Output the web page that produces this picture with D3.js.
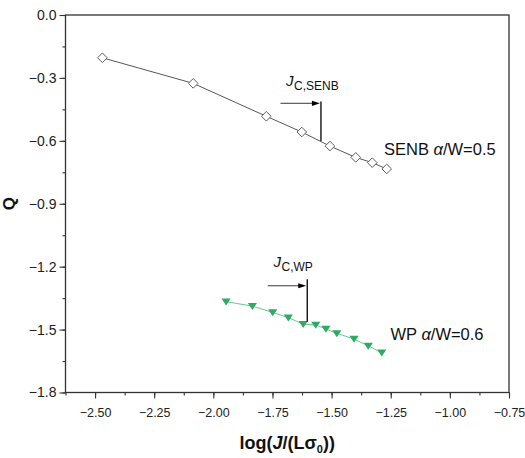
<!DOCTYPE html>
<html><head><meta charset="utf-8">
<script src="https://cdn.jsdelivr.net/npm/d3@7/dist/d3.min.js"></script>
<style>body{margin:0;background:#fff}svg{display:block}text{font-family:"Liberation Sans",Arial,sans-serif}</style>
</head><body><svg id="c" width="525" height="458"></svg>
<script>
// SENB a/W=0.5 series
const senbX = [-2.469, -2.085, -1.776, -1.626, -1.507, -1.398, -1.328, -1.267];
const senbQ = [-0.204, -0.326, -0.483, -0.558, -0.625, -0.679, -0.704, -0.734];
// WP a/W=0.6 series
const wpX = [-1.946, -1.835, -1.749, -1.683, -1.620, -1.567, -1.524, -1.478, -1.405, -1.345, -1.288];
const wpQ = [-1.367, -1.388, -1.418, -1.443, -1.474, -1.478, -1.497, -1.518, -1.545, -1.578, -1.610];
// Jc markers: [x, yTop, yBottom, arrowStartX, arrowY]
const jcSenb = [-1.545, -0.413, -0.601, -1.716, -0.421];
const jcWp = [-1.603, -1.260, -1.463, -1.770, -1.291];
const xTicks = [-2.50, -2.25, -2.00, -1.75, -1.50, -1.25, -1.00, -0.75];
const yTicks = [0.0, -0.3, -0.6, -0.9, -1.2, -1.5, -1.8];

const svg = d3.select("#c");
const L = 65.5, R = 509, T = 15, B = 392.5;
const x = d3.scaleLinear().domain([-2.625, -0.75]).range([L, R]);
const y = d3.scaleLinear().domain([0, -1.8]).range([T, B]);

// axes
const xMinor = d3.range(-2.625, -0.74, 0.125);
const yMinor = d3.range(0, -1.81, -0.15);
const gx = svg.append("g").attr("transform", `translate(0,${B})`);
gx.call(d3.axisBottom(x).tickValues(xMinor).tickSize(3).tickFormat("").tickSizeOuter(0));
const gx2 = svg.append("g").attr("transform", `translate(0,${B})`);
gx2.call(d3.axisBottom(x).tickValues(xTicks).tickSize(6).tickPadding(10).tickFormat(d3.format(".2f")).tickSizeOuter(0));
gx2.selectAll("text").attr("font-size", 12.5).attr("fill", "#222").attr("font-family", "Liberation Sans, Arial, sans-serif");
const gy = svg.append("g").attr("transform", `translate(${L},0)`);
gy.call(d3.axisLeft(y).tickValues(yMinor).tickSize(3).tickFormat("").tickSizeOuter(0));
const gy2 = svg.append("g").attr("transform", `translate(${L},0)`);
gy2.call(d3.axisLeft(y).tickValues(yTicks).tickSize(6).tickPadding(3).tickFormat(d3.format(".1f")).tickSizeOuter(0));
gy2.selectAll("text").attr("font-size", 14).attr("fill", "#222").attr("font-family", "Liberation Sans, Arial, sans-serif");
svg.selectAll(".domain").remove();
svg.selectAll(".tick line").attr("stroke", "#333").attr("stroke-width", 1.1);

// frame
svg.append("rect").attr("x", L).attr("y", T).attr("width", R - L).attr("height", B - T)
  .attr("fill", "none").attr("stroke", "#333").attr("stroke-width", 1.3);

// SENB series
const senb = senbX.map((v, i) => [v, senbQ[i]]);
const wp = wpX.map((v, i) => [v, wpQ[i]]);
const line = d3.line().x(d => x(d[0])).y(d => y(d[1]));
svg.append("path").attr("d", line(senb)).attr("fill", "none").attr("stroke", "#444").attr("stroke-width", 0.9);
svg.selectAll(".dia").data(senb).join("path")
  .attr("transform", d => `translate(${x(d[0])},${y(d[1])}) rotate(45)`)
  .attr("d", d => { const s = 3.4; return `M${-s},${-s}H${s}V${s}H${-s}Z`; })
  .attr("fill", "#fff").attr("stroke", "#555").attr("stroke-width", 0.9);

// WP series
svg.append("path").attr("d", line(wp)).attr("fill", "none").attr("stroke", "#6cc792").attr("stroke-width", 1);
svg.selectAll(".tri").data(wp).join("path")
  .attr("transform", d => `translate(${x(d[0])},${y(d[1])})`)
  .attr("d", "M-4.6,-3.2L4.6,-3.2L0,3.8Z")
  .attr("fill", "#2eab62");

// Jc annotations
function jc(a, sub, lx, ly) {
  svg.append("line").attr("x1", x(a[0])).attr("x2", x(a[0])).attr("y1", y(a[1])).attr("y2", y(a[2]))
    .attr("stroke", "#000").attr("stroke-width", 1.3);
  const ax = x(a[0]) - 1, ay = y(a[4]);
  svg.append("line").attr("x1", x(a[3])).attr("x2", ax - 6).attr("y1", ay).attr("y2", ay)
    .attr("stroke", "#222").attr("stroke-width", 0.9);
  svg.append("path").attr("d", `M${ax},${ay}L${ax - 8},${ay - 2.6}L${ax - 8},${ay + 2.6}Z`).attr("fill", "#000");
  const t = svg.append("text").attr("x", lx).attr("y", ly).attr("fill", "#111");
  t.append("tspan").text("J").attr("font-style", "italic").attr("font-size", 15);
  t.append("tspan").text(sub).attr("font-size", 12).attr("dy", 4).attr("dx", 0.5);
}
jc(jcSenb, "C,SENB", 286, 86);
jc(jcWp, "C,WP", 273.5, 267);

// series labels
svg.append("text").attr("x", 384).attr("y", 154.5).attr("font-size", 16.5).attr("fill", "#111")
  .html('SENB <tspan font-style="italic">α</tspan>/W=0.5');
svg.append("text").attr("x", 390.5).attr("y", 339.5).attr("font-size", 16.5).attr("fill", "#111")
  .html('WP <tspan font-style="italic">α</tspan>/W=0.6');

// axis titles
const xt = svg.append("text").attr("x", (L + R) / 2).attr("y", 449).attr("text-anchor", "middle")
  .attr("font-size", 18).attr("font-weight", "bold").attr("fill", "#111");
xt.append("tspan").text("log(");
xt.append("tspan").text("J").attr("font-style", "italic");
xt.append("tspan").text("/(Lσ");
xt.append("tspan").text("0").attr("font-size", 11).attr("dy", 4);
xt.append("tspan").text("))").attr("dy", -4);
svg.append("text").attr("transform", `translate(15,${(T + B) / 2}) rotate(-90)`).attr("text-anchor", "middle")
  .attr("font-size", 17).attr("font-weight", "bold").attr("fill", "#111").text("Q");
</script></body></html>
